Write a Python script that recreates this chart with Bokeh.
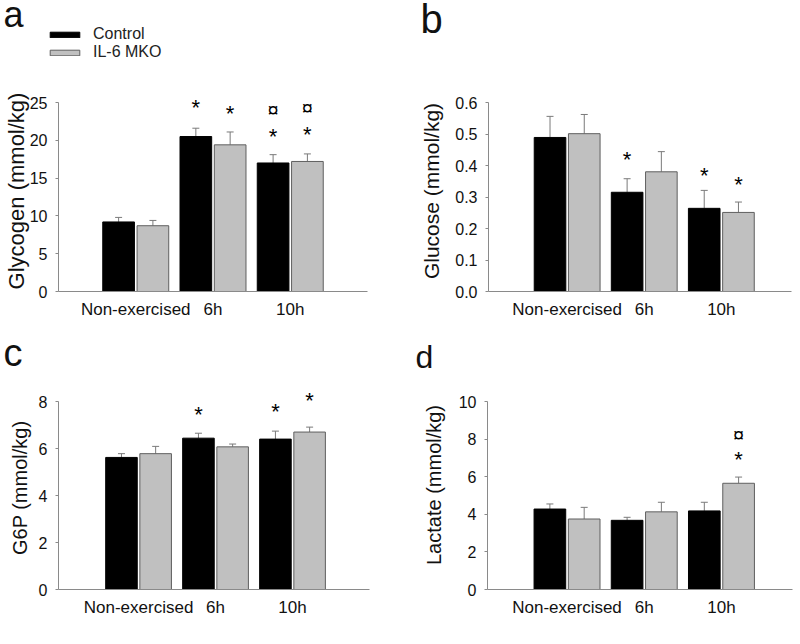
from bokeh.plotting import figure
from bokeh.models import (ColumnDataSource, Range1d, FixedTicker, Label, LabelSet,
                          Legend, LegendItem, Whisker, TeeHead, NumeralTickFormatter)
from bokeh.layouts import column, row
from bokeh.core.properties import value
from bokeh.embed import file_html
from bokeh.resources import INLINE

# ---------------- data ----------------
categories = ["Non-exercised", "6h", "10h"]
series_names = ["Control", "IL-6 MKO"]

glycogen_control = [9.2, 20.5, 17.0]
glycogen_control_sem = [0.6, 1.1, 1.1]
glycogen_mko = [8.7, 19.4, 17.2]
glycogen_mko_sem = [0.7, 1.7, 1.0]
glycogen_ticks = [0, 5, 10, 15, 20, 25]
glycogen_mark_cat = [1, 1, 2, 2, 2, 2]
glycogen_mark_series = [0, 1, 0, 0, 1, 1]
glycogen_mark_symbol = ["*", "*", "*", "¤", "*", "¤"]
glycogen_mark_y = [24.8, 23.9, 20.9, 23.9, 21.1, 24.1]

glucose_control = [0.489, 0.315, 0.264]
glucose_control_sem = [0.067, 0.043, 0.057]
glucose_mko = [0.501, 0.380, 0.251]
glucose_mko_sem = [0.061, 0.064, 0.033]
glucose_ticks = [0.0, 0.1, 0.2, 0.3, 0.4, 0.5, 0.6]
glucose_mark_cat = [1, 2, 2]
glucose_mark_series = [0, 0, 1]
glucose_mark_symbol = ["*", "*", "*"]
glucose_mark_y = [0.430, 0.379, 0.349]

g6p_control = [5.62, 6.44, 6.40]
g6p_control_sem = [0.16, 0.21, 0.34]
g6p_mko = [5.78, 6.07, 6.70]
g6p_mko_sem = [0.31, 0.12, 0.21]
g6p_ticks = [0, 2, 4, 6, 8]
g6p_mark_cat = [1, 2, 2]
g6p_mark_series = [0, 0, 1]
g6p_mark_symbol = ["*", "*", "*"]
g6p_mark_y = [7.59, 7.69, 8.16]

lactate_control = [4.28, 3.68, 4.18]
lactate_control_sem = [0.27, 0.16, 0.46]
lactate_mko = [3.75, 4.13, 5.65]
lactate_mko_sem = [0.62, 0.51, 0.33]
lactate_ticks = [0, 2, 4, 6, 8, 10]
lactate_mark_cat = [2, 2]
lactate_mark_series = [1, 1]
lactate_mark_symbol = ["*", "¤"]
lactate_mark_y = [7.08, 8.14]

# ---------------- style ----------------
FONT = "Liberation Sans"
TEXT = "#111111"
AXIS = "#8a8a8a"
CTRL_FILL, CTRL_LINE = "#000000", "#000000"
MKO_FILL, MKO_LINE = "#c0c0c0", "#5f5f5f"
ERR = "#7a7a7a"
OFFSET = 0.222
BAR_W = 0.41
PW = 400          # width of one panel
FULL_W = 800


def bare_figure(width, height):
    h = figure(width=width, height=height, x_range=Range1d(0, width),
               y_range=Range1d(0, height), output_backend="svg",
               toolbar_location=None, x_axis_location=None,
               y_axis_location=None, min_border=0, min_border_left=0,
               min_border_right=0, min_border_top=0, min_border_bottom=0)
    h.outline_line_color = None
    h.grid.visible = False
    h.background_fill_color = "white"
    h.border_fill_color = "white"
    return h


def add_letter(h, letter, size, pos):
    h.add_layout(Label(x=pos[0], y=pos[1], x_units="screen", y_units="screen",
                       text=letter, text_align="left", text_baseline="alphabetic",
                       text_font=FONT, text_font_size=f"{size}px", text_color=TEXT))


def make_main(ctrl, ctrl_sem, mko, mko_sem, ticks, fmt, x_range,
              ylabel, ylab_size, ylab_standoff,
              mark_cat, mark_series, mark_symbol, mark_y,
              height, borders, axis_px):
    left, right, bottom = borders
    ymax = ticks[-1]
    frame_h = height - bottom
    y_end = ymax * frame_h / axis_px
    p = figure(width=PW, height=height, x_range=Range1d(*x_range),
               y_range=Range1d(0, y_end), output_backend="svg",
               toolbar_location=None, min_border_left=left,
               min_border_right=right, min_border_top=0,
               min_border_bottom=bottom)
    p.outline_line_color = None
    p.grid.visible = False
    p.background_fill_color = "white"
    p.border_fill_color = "white"

    xs = [i + 1 for i in range(len(categories))]
    offs = [-OFFSET, OFFSET]
    srcs = []
    for vals, sems, off in ((ctrl, ctrl_sem, offs[0]), (mko, mko_sem, offs[1])):
        srcs.append(ColumnDataSource(dict(
            x=[x + off for x in xs], top=vals,
            upper=[v + s for v, s in zip(vals, sems)])))

    p.vbar(x="x", top="top", width=BAR_W, source=srcs[0],
           fill_color=CTRL_FILL, line_color=CTRL_LINE, line_width=1)
    p.vbar(x="x", top="top", width=BAR_W, source=srcs[1],
           fill_color=MKO_FILL, line_color=MKO_LINE, line_width=1)

    for s in srcs:
        p.add_layout(Whisker(base="x", lower="top", upper="upper", source=s,
                             dimension="height", line_color=ERR, line_width=1,
                             upper_head=TeeHead(size=7, line_color=ERR, line_width=1),
                             lower_head=None))

    for sym, size, yoff in (("*", "22px", -3), ("¤", "20px", 1)):
        idx = [k for k, m in enumerate(mark_symbol) if m == sym]
        if not idx:
            continue
        ms = ColumnDataSource(dict(
            x=[xs[mark_cat[k]] + offs[mark_series[k]] for k in idx],
            y=[mark_y[k] for k in idx],
            t=[mark_symbol[k] for k in idx]))
        p.add_layout(LabelSet(x="x", y="y", text="t", source=ms,
                              text_align="center", text_baseline="middle",
                              y_offset=yoff, text_font=value(FONT),
                              text_font_size=size, text_color="#000000"))

    p.xaxis.ticker = FixedTicker(ticks=xs)
    p.xaxis.major_label_overrides = {x: c for x, c in zip(xs, categories)}
    p.xaxis.major_tick_out = 0
    p.xaxis.major_tick_in = 0
    p.xaxis.minor_tick_out = 0
    p.xaxis.major_label_standoff = 8
    p.xaxis.major_label_text_font_size = "17px"

    p.yaxis.ticker = FixedTicker(ticks=ticks)
    p.yaxis.bounds = (0, ymax)
    if fmt:
        p.yaxis.formatter = NumeralTickFormatter(format=fmt)
    p.yaxis.major_tick_out = 3
    p.yaxis.major_tick_in = 0
    p.yaxis.minor_tick_out = 0
    p.yaxis.minor_tick_in = 0
    p.yaxis.major_label_standoff = 8
    p.yaxis.major_label_text_font_size = "16px"
    p.yaxis.axis_label = ylabel
    p.yaxis.axis_label_text_font = FONT
    p.yaxis.axis_label_text_font_size = f"{ylab_size}px"
    p.yaxis.axis_label_text_font_style = "normal"
    p.yaxis.axis_label_text_color = TEXT
    p.yaxis.axis_label_standoff = ylab_standoff

    for ax in (p.xaxis[0], p.yaxis[0]):
        ax.axis_line_color = AXIS
        ax.major_tick_line_color = AXIS
        ax.major_label_text_font = FONT
        ax.major_label_text_color = TEXT
    return p, srcs


# ---- top row: header 0..90, plots 90..322 ----
pa, srcs_a = make_main(glycogen_control, glycogen_control_sem, glycogen_mko, glycogen_mko_sem,
                       glycogen_ticks, None, (0, 4), "Glycogen (mmol/kg)", 22, -2,
                       glycogen_mark_cat, glycogen_mark_series, glycogen_mark_symbol,
                       glycogen_mark_y, 232, (57, 33, 31), 189)

pb, _ = make_main(glucose_control, glucose_control_sem, glucose_mko, glucose_mko_sem,
                  glucose_ticks, "0.0", (-0.02, 3.91), "Glucose (mmol/kg)", 21, 9,
                  glucose_mark_cat, glucose_mark_series, glucose_mark_symbol,
                  glucose_mark_y, 232, (88, 9, 31), 189)

top_header = bare_figure(FULL_W, 90)
add_letter(top_header, "a", 36, (3, 76))
add_letter(top_header, "b", 40, (420, 72))
leg_c = top_header.vbar(x="x", top="top", width=BAR_W, source=srcs_a[0],
                        fill_color=CTRL_FILL, line_color=CTRL_LINE, visible=False)
leg_m = top_header.vbar(x="x", top="top", width=BAR_W, source=srcs_a[1],
                        fill_color=MKO_FILL, line_color=MKO_LINE, visible=False)
legend = Legend(items=[LegendItem(label=series_names[0], renderers=[leg_c]),
                       LegendItem(label=series_names[1], renderers=[leg_m])],
                location=(46, 29), orientation="vertical",
                glyph_width=37, glyph_height=7, label_standoff=10,
                label_text_font=FONT, label_text_font_size="16px",
                label_text_color="#222222", label_height=18, spacing=0,
                padding=0, margin=0, border_line_color=None,
                background_fill_alpha=0, inactive_fill_alpha=0)
top_header.add_layout(legend, "center")

# ---- bottom row: header 322..380, plots 380..642 ----
pc, _ = make_main(g6p_control, g6p_control_sem, g6p_mko, g6p_mko_sem,
                  g6p_ticks, None, (-0.04, 4.0), "G6P  (mmol/kg)", 20, 5,
                  g6p_mark_cat, g6p_mark_series, g6p_mark_symbol, g6p_mark_y,
                  262, (58, 31, 53), 188)

pd, _ = make_main(lactate_control, lactate_control_sem, lactate_mko, lactate_mko_sem,
                  lactate_ticks, None, (-0.03, 3.92), "Lactate (mmol/kg)", 20, 11,
                  lactate_mark_cat, lactate_mark_series, lactate_mark_symbol,
                  lactate_mark_y, 262, (87, 8, 53), 188)

bottom_header = bare_figure(FULL_W, 58)
add_letter(bottom_header, "c", 38, (3, 28))
add_letter(bottom_header, "d", 32, (415, 24))

layout = column(top_header, row(pa, pb), bottom_header, row(pc, pd))

with open("out.html", "w") as f:
    f.write(file_html(layout, INLINE))
